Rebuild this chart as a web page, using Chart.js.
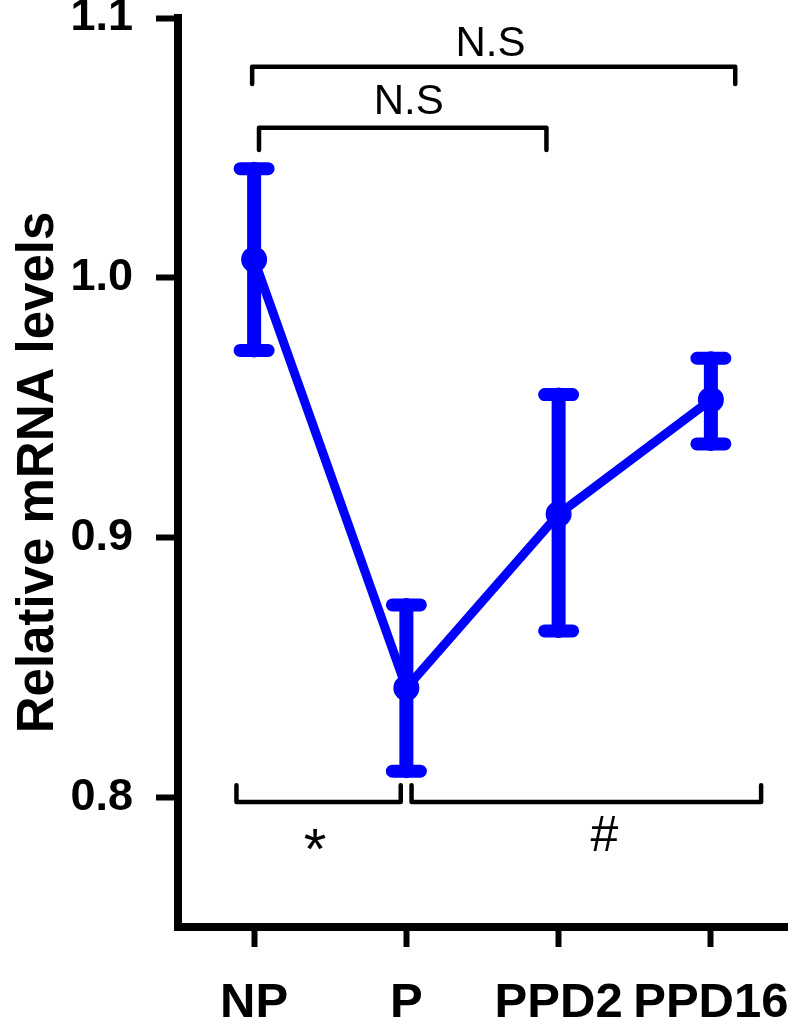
<!DOCTYPE html>
<html>
<head>
<meta charset="utf-8">
<script src="https://cdn.jsdelivr.net/npm/chart.js@4"></script>
<style>
  body { margin: 0; background: #fff; }
  #wrap { width: 800px; height: 1018px; }
</style>
</head>
<body>
<div id="wrap"><canvas id="chart_mrna"></canvas></div>
<script>
// data
const groups = ["NP", "P", "PPD2", "PPD16"];
const meanLevels = [1.007, 0.842, 0.909, 0.953];
const errLower = [0.972, 0.810, 0.864, 0.936];
const errUpper = [1.042, 0.874, 0.955, 0.969];
const yTickValues = [0.8, 0.9, 1.0, 1.1];

// significance brackets (category index / y value)
const bracketText = ["N.S", "N.S", "*", "#"];
const bracketFrom = [-0.013, 0.032, -0.116, 1.034];
const bracketTo = [3.16, 1.92, 0.963, 3.33];
const bracketLevel = [1.0812, 1.0577, 0.7981, 0.7981];
const bracketEnd = [1.0746, 1.0492, 0.8046, 0.8046];
const bracketTextX = [1.552, 1.015, 0.40, 2.30];
const bracketTextY = [1.0899, 1.0676, 0.7785, 0.7845];
const bracketTextSize = [42, 42, 58, 50];

const BLUE = "#0000ff";

// error bars
const errorBars = {
    id: "errorBars",
    beforeDatasetsDraw(chart) {
        const ctx = chart.ctx;
        const x = chart.scales.x, y = chart.scales.y;
        ctx.save();
        ctx.strokeStyle = BLUE;
        ctx.lineCap = "round";
        groups.forEach((g, i) => {
            const px = x.getPixelForValue(i);
            const lo = y.getPixelForValue(errLower[i]);
            const hi = y.getPixelForValue(errUpper[i]);
            ctx.lineWidth = 14;
            ctx.beginPath();
            ctx.moveTo(px, lo);
            ctx.lineTo(px, hi);
            ctx.stroke();
            ctx.lineWidth = 13;
            ctx.beginPath();
            ctx.moveTo(px - 14, hi); ctx.lineTo(px + 14, hi);
            ctx.moveTo(px - 14, lo); ctx.lineTo(px + 14, lo);
            ctx.stroke();
        });
        ctx.restore();
    }
};

// brackets + labels
const brackets = {
    id: "brackets",
    afterDatasetsDraw(chart) {
        const ctx = chart.ctx;
        const x = chart.scales.x, y = chart.scales.y;
        ctx.save();
        ctx.strokeStyle = "#000";
        ctx.fillStyle = "#000";
        ctx.lineWidth = 4.5;
        ctx.lineCap = "round";
        ctx.lineJoin = "round";
        bracketText.forEach((t, i) => {
            const x1 = x.getPixelForValue(bracketFrom[i]);
            const x2 = x.getPixelForValue(bracketTo[i]);
            const yl = y.getPixelForValue(bracketLevel[i]);
            const ye = y.getPixelForValue(bracketEnd[i]);
            ctx.beginPath();
            ctx.moveTo(x1, ye);
            ctx.lineTo(x1, yl);
            ctx.lineTo(x2, yl);
            ctx.lineTo(x2, ye);
            ctx.stroke();
            ctx.font = bracketTextSize[i] + "px 'Liberation Sans', Arial, sans-serif";
            ctx.textAlign = "center";
            ctx.textBaseline = "middle";
            ctx.fillText(t, x.getPixelForValue(bracketTextX[i]), y.getPixelForValue(bracketTextY[i]));
        });
        ctx.restore();
    }
};

const labelFamily = "'Liberation Sans', Arial, sans-serif";

new Chart(document.getElementById("chart_mrna"), {
    type: "line",
    data: {
        labels: groups,
        datasets: [{
            data: meanLevels,
            borderColor: BLUE,
            backgroundColor: BLUE,
            borderWidth: 9,
            pointRadius: 13,
            pointBorderWidth: 0,
            pointBackgroundColor: BLUE,
            tension: 0,
            clip: false
        }]
    },
    options: {
        responsive: true,
        maintainAspectRatio: false,
        animation: false,
        layout: { padding: { top: 18, right: 5, left: 0, bottom: 0 } },
        plugins: {
            legend: { display: false },
            tooltip: { enabled: false }
        },
        scales: {
            x: {
                offset: true,
                grid: {
                    offset: false,
                    drawOnChartArea: false,
                    tickLength: 20,
                    tickWidth: 6,
                    tickColor: "#000"
                },
                border: { color: "#000", width: 8 },
                ticks: {
                    color: "#000",
                    font: { family: labelFamily, size: 49, weight: "bold" },
                    padding: 27, maxRotation: 0, autoSkip: false
                },
                afterFit(scale) {
                    scale.height = 91;
                    scale.paddingLeft = 0;
                    scale.paddingRight = 0;
                }
            },
            y: {
                min: 0.75,
                max: 1.1,
                grid: {
                    drawOnChartArea: false,
                    tickLength: 22,
                    tickWidth: 6,
                    tickColor: "#000"
                },
                border: { color: "#000", width: 8 },
                ticks: {
                    color: "#000",
                    font: { family: labelFamily, size: 45, weight: "bold" },
                    padding: 23,
                    callback: v => Number(v).toFixed(1)
                },
                afterBuildTicks(scale) {
                    scale.ticks = yTickValues.map(v => ({ value: v }));
                },
                title: {
                    display: true,
                    text: "Relative mRNA levels",
                    color: "#000",
                    font: { family: labelFamily, size: 51, weight: "bold" },
                    padding: { top: 8, bottom: 0 }
                },
                afterFit(scale) {
                    scale.width = 178;
                    scale.paddingTop = 0;
                    scale.paddingBottom = 0;
                }
            }
        }
    },
    plugins: [errorBars, brackets]
});
</script>
</body>
</html>
